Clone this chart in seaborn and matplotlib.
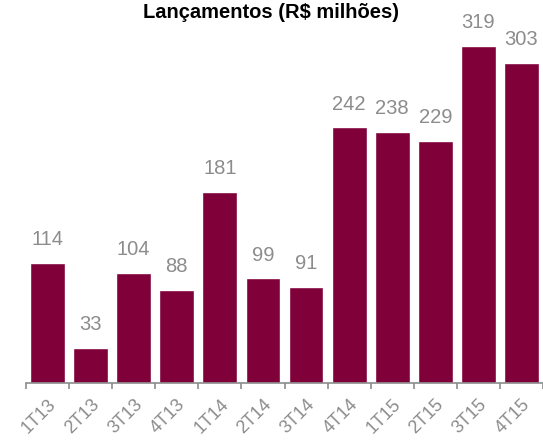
import matplotlib
matplotlib.use('Agg')
import matplotlib.pyplot as plt
import seaborn as sns
import pandas as pd
import numpy as np

# Data
quarters = ['1T13', '2T13', '3T13', '4T13', '1T14', '2T14', '3T14', '4T14',
            '1T15', '2T15', '3T15', '4T15']
launches = [114, 33, 104, 88, 181, 99, 91, 242, 238, 229, 319, 303]

bar_color = '#80003A'
text_gray = '#8C8C8C'

sns.set_style('white')
plt.rcParams['font.family'] = ['Liberation Sans', 'DejaVu Sans']

df = pd.DataFrame({'trimestre': quarters, 'valor': launches})

fig = plt.figure(figsize=(5.43, 4.43), dpi=100)
ax = fig.add_axes([26 / 543, 60 / 443, 517 / 543, 359 / 443])

sns.barplot(data=df, x='trimestre', y='valor', color=bar_color,
            saturation=1, width=0.81, ax=ax)

# value labels
for i, v in enumerate(launches):
    ax.annotate(str(v), (i, v), xytext=(0, 10), textcoords='offset points',
                ha='center', va='bottom', fontsize=14.5, color=text_gray)

ax.set_xlim(-0.5, 11.5)
ax.set_ylim(0, 340)
ax.set_xlabel('')
ax.set_ylabel('')
ax.set_yticks([])

for s in ['top', 'right', 'left']:
    ax.spines[s].set_visible(False)
ax.spines['bottom'].set_color('#8C8C8C')
ax.spines['bottom'].set_linewidth(1.2)

# tick marks between bars
ax.set_xticks(np.arange(-0.5, 12, 1), minor=True)
ax.tick_params(axis='x', which='minor', bottom=True, length=4.5, width=1.2,
               color='#8C8C8C')
ax.tick_params(axis='x', which='major', bottom=False, length=0, pad=9)
plt.setp(ax.get_xticklabels(), rotation=45, ha='right', va='top',
         rotation_mode='anchor', fontsize=13, color=text_gray)

fig.text(0.499, 1 - 12 / 443, 'Lançamentos (R$ milhões)', ha='center',
         va='center', fontsize=14.5, fontweight='bold', color='black')

fig.savefig('out.png', dpi=100)
